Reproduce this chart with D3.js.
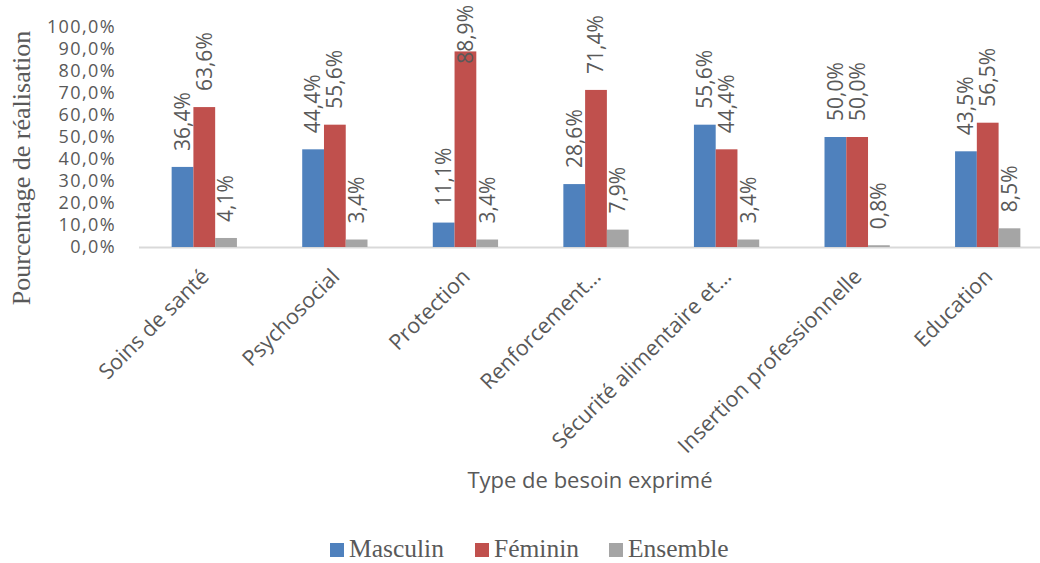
<!DOCTYPE html>
<html>
<head>
<meta charset="utf-8">
<script src="https://cdn.jsdelivr.net/npm/d3@7"></script>
<style>
  body { margin: 0; background: #fff; }
  text { fill: #595959; }
</style>
</head>
<body>
<script>
const categories = ["Soins de santé", "Psychosocial", "Protection", "Renforcement…",
  "Sécurité alimentaire et…", "Insertion professionnelle", "Education"];
const series = ["Masculin", "Féminin", "Ensemble"];
const masculin = [36.4, 44.4, 11.1, 28.6, 55.6, 50.0, 43.5];
const feminin = [63.6, 55.6, 88.9, 71.4, 44.4, 50.0, 56.5];
const ensemble = [4.1, 3.4, 3.4, 7.9, 3.4, 0.8, 8.5];
const yTicks = [0, 10, 20, 30, 40, 50, 60, 70, 80, 90, 100];
const colors = ["#4F81BD", "#C0504D", "#A5A5A5"];

const width = 1040, height = 563;
const fmt = v => v.toFixed(1).replace(".", ",") + "%";

const svg = d3.select("body").append("svg")
  .attr("width", width)
  .attr("height", height);

const x = d3.scaleBand().domain(categories).range([139, 1053]);
const xs = d3.scaleBand().domain(series).range([0, x.bandwidth() / 2]);
const y = d3.scaleLinear().domain([0, 100]).range([247, 27]);

// y tick labels (no axis line)
svg.append("g")
  .selectAll("text")
  .data(yTicks)
  .join("text")
  .attr("x", 116)
  .attr("y", d => y(d))
  .attr("dy", "0.35em")
  .attr("text-anchor", "end")
  .style("font", "18px 'Open Sans'")
  .style("letter-spacing", "1.4px")
  .text(d => fmt(d));

// baseline
svg.append("line")
  .attr("x1", 139).attr("x2", 1053)
  .attr("y1", y(0) + 0.5).attr("y2", y(0) + 0.5)
  .attr("stroke", "#d9d9d9")
  .attr("stroke-width", 2);

const rows = categories.map((c, i) => ({
  cat: c,
  vals: [masculin[i], feminin[i], ensemble[i]]
}));

const groups = svg.append("g")
  .selectAll("g")
  .data(rows)
  .join("g")
  .attr("transform", d => `translate(${x(d.cat) + x.bandwidth() / 4},0)`);

groups.selectAll("rect")
  .data(d => d.vals.map((v, j) => ({ v, s: series[j], j })))
  .join("rect")
  .attr("x", d => xs(d.s))
  .attr("y", d => y(d.v))
  .attr("width", xs.bandwidth())
  .attr("height", d => y(0) - y(d.v))
  .attr("fill", d => colors[d.j]);

const labels = groups.selectAll("text")
  .data(d => d.vals.map((v, j) => ({ v, s: series[j], j })))
  .join("text")
  .attr("text-anchor", "start")
  .attr("dy", "0.35em")
  .style("font", "21px 'Open Sans'")
  .text(d => fmt(d.v));

labels.each(function (d) {
  const len = this.getComputedTextLength();
  let start = y(d.v) - 16;
  if (start - len < 5) start = 5 + len;
  const cx = xs(d.s) + xs.bandwidth() / 2;
  d3.select(this).attr("transform", `translate(${cx},${start}) rotate(-90)`);
});

// category labels rotated -45
svg.append("g")
  .selectAll("text")
  .data(categories)
  .join("text")
  .attr("text-anchor", "end")
  .attr("transform", d => `translate(${x(d) + x.bandwidth() / 2 + 6},${278}) rotate(-45)`)
  .style("font", "21.5px 'Open Sans'")
  .text(d => d);

// axis titles
svg.append("text")
  .attr("x", 590)
  .attr("y", 488)
  .attr("text-anchor", "middle")
  .style("font", "22px 'Open Sans'")
  .text("Type de besoin exprimé");

svg.append("text")
  .attr("transform", "translate(30,168) rotate(-90)")
  .attr("text-anchor", "middle")
  .style("font", "26px 'Liberation Serif'")
  .text("Pourcentage de réalisation");

// legend
const legendX = [330, 475, 609];
const legend = svg.append("g")
  .selectAll("g")
  .data(series)
  .join("g")
  .attr("transform", (d, i) => `translate(${legendX[i]},543)`);

legend.append("rect")
  .attr("width", 14)
  .attr("height", 14)
  .attr("fill", (d, i) => colors[i]);

legend.append("text")
  .attr("x", 19)
  .attr("y", 14)
  .style("font", "25.5px 'Liberation Serif'")
  .text(d => d);
</script>
</body>
</html>
